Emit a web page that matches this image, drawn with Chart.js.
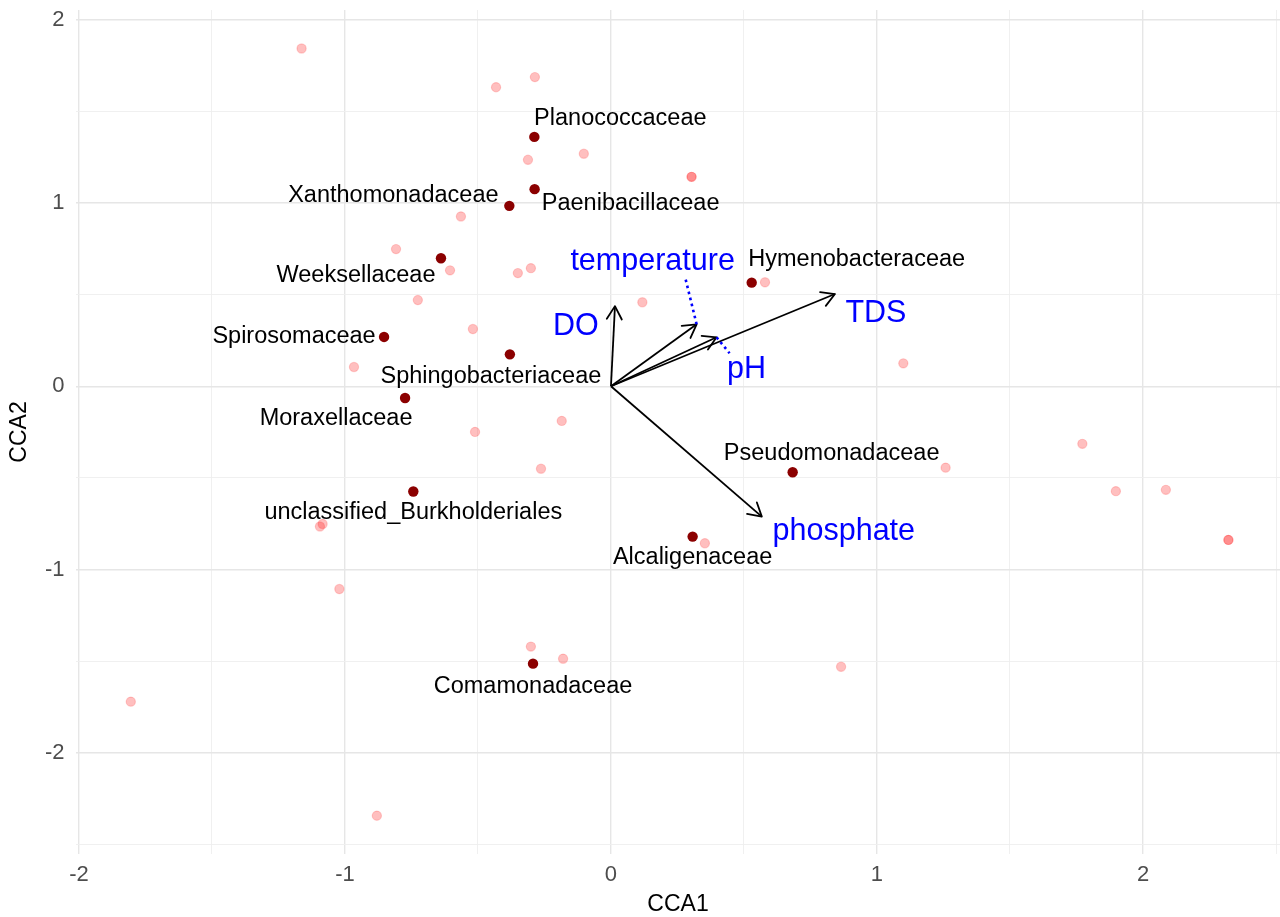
<!DOCTYPE html>
<html>
<head>
<meta charset="utf-8">
<title>CCA biplot</title>
<script src="https://cdn.jsdelivr.net/npm/chart.js@4.4.1/dist/chart.umd.min.js"></script>
<style>
  html, body { margin: 0; padding: 0; background: #ffffff; }
  #wrap { width: 1280px; height: 917px; position: relative; }
</style>
</head>
<body>
<div id="wrap"><canvas id="cca"></canvas></div>
<script>
// Labelled families (species scores)
const familyNames = [
  'Planococcaceae', 'Paenibacillaceae', 'Xanthomonadaceae', 'Weeksellaceae',
  'Hymenobacteraceae', 'Spirosomaceae', 'Sphingobacteriaceae', 'Moraxellaceae',
  'Pseudomonadaceae', 'unclassified_Burkholderiales', 'Alcaligenaceae', 'Comamonadaceae'
];
const familyCCA1 = [-0.288, -0.287, -0.382, -0.639, 0.529, -0.853, -0.380, -0.774, 0.683, -0.743, 0.307, -0.293];
const familyCCA2 = [1.360, 1.075, 0.984, 0.698, 0.565, 0.269, 0.174, -0.064, -0.469, -0.574, -0.820, -1.513];

// Remaining (unlabelled) taxa
const otherCCA1 = [
  -1.163, -0.286, -0.432, -0.102, -0.312, 0.303, 0.303, -0.564, -0.808, -0.605,
  -0.350, -0.301, -0.726, -0.519, 0.118, 0.579, -0.966, 1.099, -0.511, -0.185,
  -0.263, 1.772, 1.258, 1.898, 2.086, 2.321, 2.321, -1.094, -1.084, 0.353,
  -1.021, -0.301, -0.180, 0.865, -1.805, -0.880
];
const otherCCA2 = [
  1.842, 1.686, 1.631, 1.268, 1.235, 1.142, 1.142, 0.926, 0.748, 0.632,
  0.617, 0.644, 0.470, 0.312, 0.458, 0.567, 0.105, 0.125, -0.249, -0.189,
  -0.450, -0.314, -0.444, -0.572, -0.565, -0.838, -0.838, -0.765, -0.751, -0.856,
  -1.106, -1.420, -1.486, -1.530, -1.720, -2.342
];

// Environmental variables (biplot arrows)
const envNames = ['DO', 'temperature', 'pH', 'TDS', 'phosphate'];
const envCCA1 = [0.015, 0.322, 0.397, 0.842, 0.567];
const envCCA2 = [0.437, 0.338, 0.267, 0.503, -0.711];

// Axis ticks
const labelTicks = [-2, -1, 0, 1, 2];
const gridX = [-2, -1.5, -1, -0.5, 0, 0.5, 1, 1.5, 2, 2.5];
const gridY = [-2.5, -2, -1.5, -1, -0.5, 0, 0.5, 1, 1.5, 2];

// Text placement relative to each mark, in pixels [dx, dy to baseline]
const familyLabelShift = [
  [86, -12], [96, 21], [-116, -4], [-85, 24], [105, -17], [-90, 6],
  [-19, 29], [-69, 27], [39, -12], [0, 28], [0, 27], [0, 29]
];
const envLabelShift = [[-39, 29], [-44, -54], [30, 41], [41, 28], [82, 23]];
// dotted leader lines from arrow tip towards a repelled label
const envLeader = { temperature: [-11, -45], pH: [13, 16] };

const FONT = '"Liberation Sans", Arial, Helvetica, sans-serif';
Chart.defaults.font.family = FONT;

const toPoints = (xs, ys) => xs.map((v, i) => ({ x: v, y: ys[i] }));
const isMajor = v => labelTicks.includes(v);

const biplotText = {
  id: 'biplotText',
  afterDatasetsDraw(chart) {
    const { ctx, scales: { x, y } } = chart;
    const ox = x.getPixelForValue(0), oy = y.getPixelForValue(0);
    ctx.save();

    // open arrowheads
    ctx.strokeStyle = '#000000';
    ctx.lineWidth = 1.8;
    ctx.lineCap = 'round';
    ctx.lineJoin = 'round';
    const L = 15, H = Math.PI / 6;
    envNames.forEach((n, i) => {
      const tx = x.getPixelForValue(envCCA1[i]);
      const ty = y.getPixelForValue(envCCA2[i]);
      const a = Math.atan2(ty - oy, tx - ox);
      ctx.beginPath();
      ctx.moveTo(tx - L * Math.cos(a - H), ty - L * Math.sin(a - H));
      ctx.lineTo(tx, ty);
      ctx.lineTo(tx - L * Math.cos(a + H), ty - L * Math.sin(a + H));
      ctx.stroke();
    });

    // dotted leaders
    ctx.strokeStyle = '#0000FF';
    ctx.lineWidth = 2.6;
    ctx.lineCap = 'butt';
    ctx.setLineDash([2.6, 3.6]);
    envNames.forEach((n, i) => {
      const seg = envLeader[n];
      if (!seg) return;
      const tx = x.getPixelForValue(envCCA1[i]);
      const ty = y.getPixelForValue(envCCA2[i]);
      ctx.beginPath();
      ctx.moveTo(tx, ty);
      ctx.lineTo(tx + seg[0], ty + seg[1]);
      ctx.stroke();
    });
    ctx.setLineDash([]);

    // family labels
    ctx.textAlign = 'center';
    ctx.textBaseline = 'alphabetic';
    ctx.fillStyle = '#000000';
    ctx.font = '23.5px ' + FONT;
    familyNames.forEach((n, i) => {
      const px = x.getPixelForValue(familyCCA1[i]) + familyLabelShift[i][0];
      const py = y.getPixelForValue(familyCCA2[i]) + familyLabelShift[i][1];
      ctx.fillText(n, px, py);
    });

    // environmental variable labels
    ctx.fillStyle = '#0000FF';
    ctx.font = '30.5px ' + FONT;
    envNames.forEach((n, i) => {
      const px = x.getPixelForValue(envCCA1[i]) + envLabelShift[i][0];
      const py = y.getPixelForValue(envCCA2[i]) + envLabelShift[i][1];
      ctx.fillText(n, px, py);
    });

    ctx.restore();
  }
};

const gridStyle = {
  color: c => (c.tick && isMajor(c.tick.value)) ? '#E6E6E6' : '#EEEEEE',
  lineWidth: c => (c.tick && isMajor(c.tick.value)) ? 1.4 : 0.9,
  drawTicks: false
};

// keep the plotting panel at a fixed size: no extra room for edge labels
const fixPadding = s => {
  s.paddingTop = 0; s.paddingBottom = 0; s.paddingLeft = 0; s.paddingRight = 0;
};

new Chart(document.getElementById('cca'), {
  type: 'scatter',
  data: {
    datasets: [
      {
        label: 'families',
        data: toPoints(familyCCA1, familyCCA2),
        backgroundColor: '#8B0000',
        borderColor: '#8B0000',
        borderWidth: 0,
        pointRadius: 5.2,
        order: 2
      },
      {
        label: 'other taxa',
        data: toPoints(otherCCA1, otherCCA2),
        backgroundColor: 'rgba(255,0,0,0.25)',
        borderColor: 'rgba(255,0,0,0.18)',
        borderWidth: 1.2,
        pointRadius: 4.6,
        order: 3
      },
      ...envNames.map((n, i) => ({
        label: n,
        data: [{ x: 0, y: 0 }, { x: envCCA1[i], y: envCCA2[i] }],
        showLine: true,
        borderColor: '#000000',
        borderWidth: 1.8,
        pointRadius: 0,
        fill: false,
        order: 1
      }))
    ]
  },
  options: {
    responsive: true,
    maintainAspectRatio: false,
    animation: false,
    layout: { autoPadding: false, padding: { top: 10, right: 0, bottom: 0, left: 0 } },
    plugins: { legend: { display: false }, tooltip: { enabled: false } },
    scales: {
      x: {
        type: 'linear',
        min: -2.011,
        max: 2.515,
        afterBuildTicks: s => { s.ticks = gridX.map(v => ({ value: v })); },
        afterFit: s => { s.height = 63; fixPadding(s); },
        grid: gridStyle,
        border: { display: false },
        ticks: {
          autoSkip: false,
          maxRotation: 0,
          padding: 8,
          color: '#4D4D4D',
          font: { size: 22 },
          callback: v => isMajor(v) ? String(v) : ''
        },
        title: {
          display: true,
          text: 'CCA1',
          color: '#000000',
          font: { size: 23, lineHeight: 1 },
          padding: { top: 0, bottom: 1 }
        }
      },
      y: {
        type: 'linear',
        min: -2.551,
        max: 2.052,
        afterBuildTicks: s => { s.ticks = gridY.map(v => ({ value: v })); },
        afterFit: s => { s.width = 76; fixPadding(s); },
        grid: gridStyle,
        border: { display: false },
        ticks: {
          autoSkip: false,
          padding: 11.5,
          color: '#4D4D4D',
          font: { size: 22 },
          callback: v => isMajor(v) ? String(v) : ''
        },
        title: {
          display: true,
          text: 'CCA2',
          color: '#000000',
          font: { size: 23, lineHeight: 1 },
          padding: { top: 8.5, bottom: 0 }
        }
      }
    }
  },
  plugins: [biplotText]
});
</script>
</body>
</html>
